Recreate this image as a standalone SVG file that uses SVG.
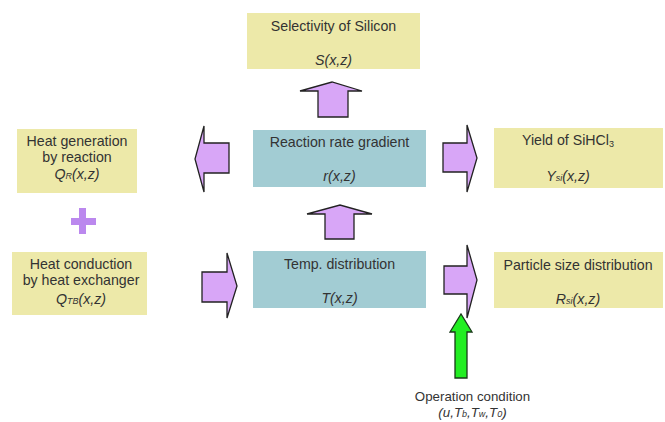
<svg xmlns="http://www.w3.org/2000/svg" width="665" height="422" viewBox="0 0 665 422">
  <style>
    .out { fill: #ede9a9; }
    .core { fill: #a2ccd3; }
    .t { font-family: "Liberation Sans", Arial, sans-serif; font-size: 14.2px; fill: #333333; text-anchor: middle; }
    .i { font-style: italic; }
    .s { font-size: 9px; }
    .arrow { fill: #d8a6f7; stroke: #222222; stroke-width: 1.3; stroke-linejoin: miter; }
    .go { fill: #22ee22; stroke: #1a3a1a; stroke-width: 1.3; }
  </style>

  <rect width="665" height="422" fill="#ffffff"/>

  <!-- top: selectivity -->
  <g id="selectivity">
    <rect class="out" x="247" y="13" width="173" height="56"/>
    <text class="t" x="333.5" y="31">Selectivity of Silicon</text>
    <text class="t i" x="333.5" y="65">S(x,z)</text>
  </g>

  <!-- left column -->
  <g id="heat-generation">
    <rect class="out" x="17" y="129" width="120" height="64"/>
    <text class="t" x="77" y="146">Heat generation</text>
    <text class="t" x="77" y="162">by reaction</text>
    <text class="t i" x="77" y="179">Q<tspan class="s">R</tspan>(x,z)</text>
  </g>

  <g id="plus">
    <rect x="79" y="208" width="7" height="26" fill="#bb88ee"/>
    <rect x="71" y="218" width="25" height="7" fill="#bb88ee"/>
  </g>

  <g id="heat-conduction">
    <rect class="out" x="12" y="252" width="135" height="63"/>
    <text class="t" x="81" y="269">Heat conduction</text>
    <text class="t" x="81" y="285">by heat exchanger</text>
    <text class="t i" x="81" y="304">Q<tspan class="s">TB</tspan>(x,z)</text>
  </g>

  <!-- centre column -->
  <g id="reaction-rate">
    <rect class="core" x="253" y="130" width="173" height="57"/>
    <text class="t" x="339.5" y="147">Reaction rate gradient</text>
    <text class="t i" x="339.5" y="181">r(x,z)</text>
  </g>

  <g id="temperature">
    <rect class="core" x="253" y="251" width="173" height="57"/>
    <text class="t" x="339.5" y="269">Temp. distribution</text>
    <text class="t i" x="339.5" y="303">T(x,z)</text>
  </g>

  <!-- right column -->
  <g id="yield">
    <rect class="out" x="494" y="128" width="169" height="60"/>
    <text class="t" x="568" y="145">Yield of SiHCl<tspan class="s" dy="2">3</tspan></text>
    <text class="t i" x="568" y="181">Y<tspan class="s">si</tspan>(x,z)</text>
  </g>

  <g id="particle-size">
    <rect class="out" x="494" y="252" width="169" height="56"/>
    <text class="t" x="578" y="270">Particle size distribution</text>
    <text class="t i" x="578" y="304">R<tspan class="s">si</tspan>(x,z)</text>
  </g>

  <g id="operation-condition">
    <text class="t" x="472.5" y="401" style="font-size:13.3px">Operation condition</text>
    <text class="t i" x="472.5" y="417" style="font-size:13.3px">(u,T<tspan class="s">b</tspan>,T<tspan class="s">w</tspan>,T<tspan class="s">0</tspan>)</text>
  </g>

  <!-- block arrows -->
  <g id="connectors">
    <!-- reaction rate -> selectivity -->
    <polygon class="arrow" points="318,117 318,91 300,91 332,82 362,91 348,91 348,117"/>
    <!-- temperature -> reaction rate -->
    <polygon class="arrow" points="325,239 325,214 307,214 340,205 372,214 354,214 354,239"/>
    <!-- reaction rate -> heat generation -->
    <polygon class="arrow" points="229,143 204,143 204,126 195,159 204,192 204,173 229,173"/>
    <!-- reaction rate -> yield -->
    <polygon class="arrow" points="443,143 467,143 467,125 477,158 467,192 467,172 443,172"/>
    <!-- heat conduction -> temperature -->
    <polygon class="arrow" points="202,272 227,272 227,253 237,286 227,318 227,302 202,302"/>
    <!-- temperature -> particle size -->
    <polygon class="arrow" points="444,266 467,266 467,245 477,280 467,318 467,294 444,294"/>
    <!-- operation condition input -->
    <polygon class="go" points="455,378 455,332 450,332 461,314 472,332 467,332 467,378"/>
  </g>
</svg>
